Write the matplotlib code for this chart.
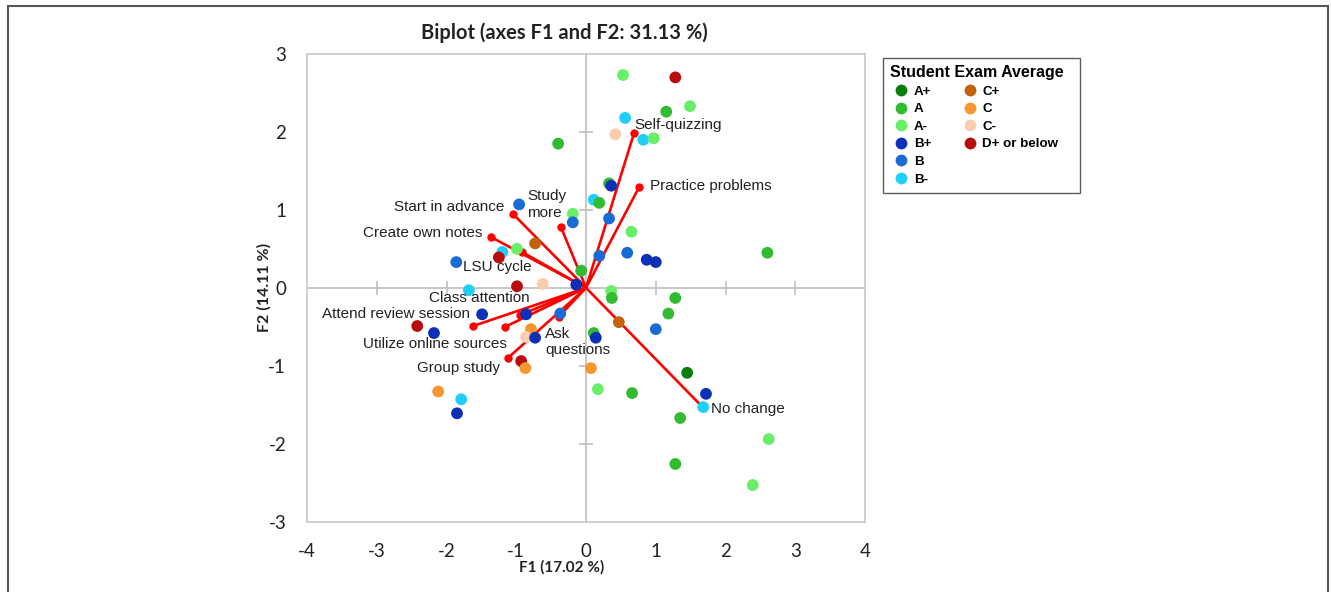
import matplotlib

matplotlib.use("Agg")
import matplotlib.pyplot as plt
from matplotlib.lines import Line2D
from matplotlib.patches import Rectangle

# grade categories and their colours
GRADES = ["A+", "A", "A-", "B+", "B", "B-", "C+", "C", "C-", "D+ or below"]
GRADE_COLORS = ["#0b7d0b", "#30bb30", "#68ee68", "#0c30b8", "#1a6bd6", "#1fcff7",
                "#c2620c", "#f7962e", "#fbcdaf", "#b90c0c"]

# observations (students) on F1 / F2
OBS_X = [0.53, 1.28, 1.15, 1.49, 0.56, 0.42, 0.82, 0.97, -0.40, 0.33,
         0.36, 0.11, 0.19, -0.96, -0.19, -0.19, 0.33, 0.65, -0.73, -0.99,
         -1.20, -1.25, -1.86, 0.59, 0.87, 1.00, 2.60, 0.19, -0.07, -0.14,
         -0.99, -0.62, -1.68, 0.36, 0.37, 1.28, 1.18, 0.47, 1.00, -1.49,
         -0.86, -0.37, -2.42, -2.18, -0.79, -0.86, -0.73, 0.11, 0.14, -0.93,
         -0.87, 0.07, 1.45, 0.17, 0.66, 1.72, 1.68, 1.35, 2.62, 1.28,
         2.39, -2.12, -1.79, -1.85]
OBS_Y = [2.73, 2.70, 2.26, 2.33, 2.18, 1.97, 1.90, 1.92, 1.85, 1.34,
         1.31, 1.13, 1.09, 1.07, 0.95, 0.84, 0.89, 0.72, 0.57, 0.50,
         0.46, 0.39, 0.33, 0.45, 0.36, 0.33, 0.45, 0.41, 0.22, 0.04,
         0.02, 0.05, -0.03, -0.04, -0.13, -0.13, -0.33, -0.44, -0.53, -0.34,
         -0.34, -0.33, -0.49, -0.58, -0.53, -0.63, -0.64, -0.58, -0.64, -0.94,
         -1.03, -1.03, -1.09, -1.30, -1.35, -1.36, -1.53, -1.67, -1.94, -2.26,
         -2.53, -1.33, -1.43, -1.61]
OBS_GRADE = ["A-", "D+ or below", "A", "A-", "B-", "C-", "B-", "A-", "A", "A",
             "B+", "B-", "A", "B", "A-", "B", "B", "A-", "C+", "A-",
             "B-", "D+ or below", "B", "B", "B+", "B+", "A", "B", "A", "B+",
             "D+ or below", "C-", "B-", "A-", "A", "A", "A", "C+", "B", "B+",
             "B+", "B", "D+ or below", "B+", "C", "C-", "B+", "A", "B+", "D+ or below",
             "C", "C", "A+", "A-", "A", "B+", "B-", "A", "A-", "A",
             "A-", "C", "B-", "B+"]

# variables (study habits) loadings
VAR_NAMES = ["Self-quizzing", "Practice problems", "Study\nmore", "Start in advance",
             "Create own notes", "LSU cycle", "Class attention", "Attend review session",
             "Utilize online sources", "Group study", "Ask\nquestions", "No change"]
VAR_X = [0.69, 0.76, -0.36, -1.05, -1.36, -0.92, -0.95, -1.62, -1.16, -1.12, -0.39, 1.66]
VAR_Y = [1.99, 1.29, 0.78, 0.95, 0.65, 0.46, -0.35, -0.49, -0.50, -0.90, -0.37, -1.52]
# label anchor in data units (left edge, vertical centre)
LABEL_X = [0.69, 0.92, -0.84, -2.76, -3.20, -1.76, -2.25, -3.78, -3.20, -2.42, -0.59, 1.79]
LABEL_Y = [2.09, 1.31, 1.07, 1.04, 0.70, 0.27, -0.13, -0.33, -0.72, -1.03, -0.70, -1.55]

CALIBRI = ["Lato", "DejaVu Sans"]
ARIAL = ["Liberation Sans", "DejaVu Sans"]
INK = "#222222"
AXGRAY = "#bfbfbf"

plt.rcParams["axes.unicode_minus"] = False

fig = plt.figure(figsize=(13.31, 5.92), dpi=100)
ax = fig.add_axes([0.2307, 0.1188, 0.4192, 0.79])

# outer frame of the figure panel
fig.patches.append(Rectangle((8 / 1331, -0.1), 1320 / 1331, 1.1 - 6 / 592,
                             transform=fig.transFigure, fill=False,
                             edgecolor="#555555", lw=1.5))

ax.set_xlim(-4, 4)
ax.set_ylim(-3, 3)
for s in ax.spines.values():
    s.set_color("#c8c8c8")
    s.set_linewidth(1.2)

# origin axes with cross ticks
ax.axhline(0, color=AXGRAY, lw=1.2, zorder=1)
ax.axvline(0, color=AXGRAY, lw=1.2, zorder=1)
ax.plot(range(-3, 4), [0] * 7, ls="none", marker="|", ms=10, mew=1.2, color=AXGRAY, zorder=1)
ax.plot([0] * 5, range(-2, 3), ls="none", marker="_", ms=10, mew=1.2, color=AXGRAY, zorder=1)

# variable vectors
for vx, vy in zip(VAR_X, VAR_Y):
    ax.plot([0, vx], [0, vy], color="#ff0000", lw=1.9, zorder=2,
            solid_capstyle="butt")
ax.plot(VAR_X, VAR_Y, ls="none", marker="o", ms=5, color="#ff0000", zorder=2)

# observations
cmap = dict(zip(GRADES, GRADE_COLORS))
ax.scatter(OBS_X, OBS_Y, s=72, c=[cmap[g] for g in OBS_GRADE], linewidths=0, zorder=3)

for name, lx, ly in zip(VAR_NAMES, LABEL_X, LABEL_Y):
    ax.text(lx, ly, name, fontsize=11, family=ARIAL, color=INK,
            ha="left", va="center", zorder=4, linespacing=1.2)

ax.set_xticks(range(-4, 5))
ax.set_yticks(range(-3, 4))
ax.tick_params(length=0, labelsize=13.5, labelcolor=INK)
ax.tick_params(axis="x", pad=15)
ax.tick_params(axis="y", pad=15)
for lab in ax.get_xticklabels() + ax.get_yticklabels():
    lab.set_family(CALIBRI)

ax.set_xlabel("F1 (17.02 %)", fontsize=11, fontweight="bold", family=CALIBRI, color=INK)
ax.set_ylabel("F2 (14.11 %)", fontsize=11.5, fontweight="bold", family=CALIBRI, color=INK)
ax.xaxis.set_label_coords(0.457, -0.082)
ax.yaxis.set_label_coords(-0.063, 0.5)
fig.text(0.424, 0.944, "Biplot (axes F1 and F2: 31.13 %)", fontsize=14.5, fontweight="bold",
         family=CALIBRI, color=INK, ha="center", va="center")

handles = [Line2D([], [], ls="none", marker="o", ms=8.5, mec="none", color=c)
           for c in GRADE_COLORS]
labels = GRADES[:]
handles += [Line2D([], [], ls="none")] * 2
labels += ["", ""]
leg = fig.legend(handles, labels, loc="upper left", bbox_to_anchor=(0.6635, 0.902),
                 ncol=2, frameon=True, fancybox=False, edgecolor="#333333",
                 title="Student Exam Average  ", alignment="left",
                 prop={"family": ARIAL, "weight": "bold", "size": 9.6},
                 title_fontproperties={"family": ARIAL, "weight": "bold", "size": 11.5},
                 handletextpad=0.15, columnspacing=2.1, labelspacing=0.39,
                 borderpad=0.55, handlelength=1.6, borderaxespad=0)
leg.get_frame().set_linewidth(1.0)

fig.savefig("out.png", dpi=100)
